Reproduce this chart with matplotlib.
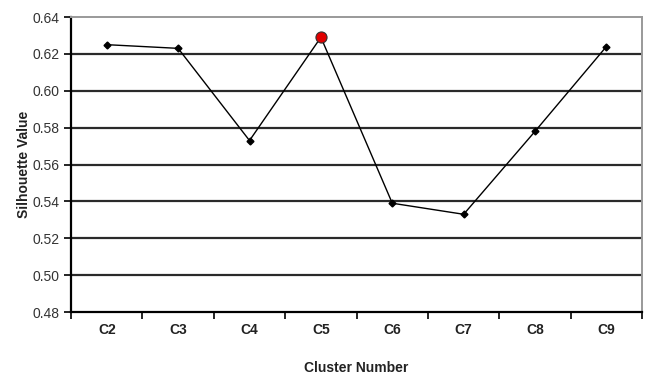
import matplotlib.pyplot as plt
import numpy as np

clusters = ["C2", "C3", "C4", "C5", "C6", "C7", "C8", "C9"]
silhouette = [0.625, 0.623, 0.573, 0.629, 0.539, 0.533, 0.578, 0.624]
best = 3  # C5 highlighted

font = ['Liberation Sans Narrow', 'Liberation Sans', 'DejaVu Sans']

fig = plt.figure(figsize=(6.46, 3.85), dpi=100)
ax = fig.add_axes([0.110, 0.1896, 0.884, 0.7662])

x = np.arange(len(clusters))
ax.plot(x, silhouette, color="black", lw=1.0, marker="D", ms=3.5,
        markerfacecolor="black", markeredgecolor="black", zorder=3)
ax.plot(x[best], silhouette[best], marker="o", ms=8, markerfacecolor="#e00000",
        markeredgecolor="#333333", markeredgewidth=0.8, linestyle="none", zorder=4)

ax.set_xlim(-0.5, len(clusters) - 0.5)
ax.set_ylim(0.48, 0.64)

yt = np.arange(0.48, 0.6401, 0.02)
ax.set_yticks(yt)
ax.set_yticklabels(["%.2f" % v for v in yt], fontfamily=font, fontsize=10, color="#333333")
for v in yt[1:-1]:
    ax.axhline(v, color="#2a2a2a", lw=1.6, zorder=1)

ax.set_xticks(np.arange(-0.5, len(clusters)), labels=[""] * (len(clusters) + 1))
ax.set_xticks(x, labels=clusters, minor=True)
ax.tick_params(axis="x", which="minor", length=0, pad=8)
ax.tick_params(axis="x", which="major", length=5, width=1.2, direction="out")
ax.tick_params(axis="y", length=5, width=1.2, direction="out", pad=3)
for lab in ax.get_xticklabels(minor=True):
    lab.set_fontfamily(font)
    lab.set_fontsize(10)
    lab.set_fontweight("bold")
    lab.set_color("#222222")

ax.spines["left"].set_linewidth(1.6)
ax.spines["bottom"].set_linewidth(1.6)
ax.spines["top"].set_color("#999999")
ax.spines["right"].set_color("#999999")
ax.spines["top"].set_linewidth(1.4)
ax.spines["right"].set_linewidth(1.4)

ax.set_xlabel("Cluster Number", fontfamily=font, fontsize=10, fontweight="bold",
              color="#222222", labelpad=17)
ax.set_ylabel("Silhouette Value", fontfamily=font, fontsize=10, fontweight="bold",
              color="#222222", labelpad=1)

fig.savefig("out.png", dpi=100)
